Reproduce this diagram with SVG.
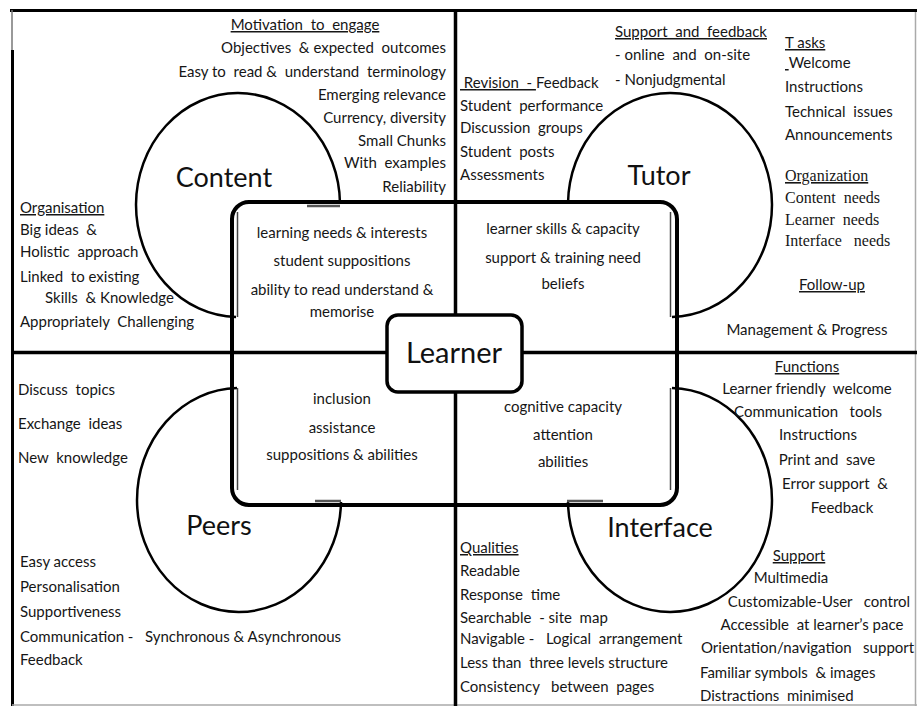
<svg xmlns="http://www.w3.org/2000/svg" width="917" height="706" viewBox="0 0 917 706">
<style>
.t{font-family:Lato,"Liberation Sans",sans-serif;font-size:15px;fill:#161616;white-space:pre}
.m{text-anchor:middle}
.e{text-anchor:end}
.u{text-decoration:underline}
.s{font-family:"Liberation Serif","Times New Roman",serif;font-size:16px}
.big{font-family:Lato,"Liberation Sans",sans-serif;font-size:27px;fill:#111;text-anchor:middle}
.ln{stroke:#000;fill:none}
.arc{stroke:#000;stroke-width:2.5;fill:none}
.dbl{stroke:#444;stroke-width:1.5;fill:none}
</style>
<rect x="0" y="0" width="917" height="706" fill="#fff"/>
<g id="connectors">
  <line class="ln" x1="10" y1="10.5" x2="917" y2="10.5" stroke-width="3"/>
  <line x1="12" y1="10" x2="12" y2="50" stroke="#777" stroke-width="1.5"/>
  <line class="ln" x1="12.5" y1="50" x2="12.5" y2="706" stroke-width="3"/>
  <line x1="915.5" y1="12" x2="915.5" y2="706" stroke="#aaa" stroke-width="1.5"/>
  <line x1="12" y1="705" x2="917" y2="705" stroke="#aaa" stroke-width="1.5"/>
  <line class="ln" x1="455.5" y1="10" x2="455.5" y2="706" stroke-width="3.5"/>
  <line class="ln" x1="12" y1="352.5" x2="917" y2="352.5" stroke-width="3.5"/>
  <rect class="ln" x="232" y="202" width="445" height="303" rx="17" stroke-width="4"/>
</g>
<g id="content">
  <path class="arc" d="M 340 203 A 102 112 0 1 0 236 317"/>
  <line class="dbl" x1="237.5" y1="212" x2="237.5" y2="317"/>
  <line x1="307" y1="206" x2="340" y2="206" stroke="#555" stroke-width="2.5"/>
  <text class="big" x="224" y="187">Content</text>
  <text class="t m u" x="305" y="30">Motivation  to  engage</text>
  <text class="t e" x="446" y="53">Objectives  &amp; expected  outcomes</text>
  <text class="t e" x="446" y="77">Easy to  read &amp;  understand  terminology</text>
  <text class="t e" x="446" y="100">Emerging relevance</text>
  <text class="t e" x="446" y="123">Currency, diversity</text>
  <text class="t e" x="446" y="146">Small Chunks</text>
  <text class="t e" x="446" y="168">With  examples</text>
  <text class="t e" x="446" y="192">Reliability</text>
  <text class="t u" x="20" y="213">Organisation</text>
  <text class="t" x="20" y="235">Big ideas  &amp;</text>
  <text class="t" x="20" y="257">Holistic  approach</text>
  <text class="t" x="20" y="282">Linked  to existing</text>
  <text class="t" x="45" y="303">Skills  &amp; Knowledge</text>
  <text class="t" x="20" y="327">Appropriately  Challenging</text>
  <text class="t m" x="342" y="238">learning needs &amp; interests</text>
  <text class="t m" x="342" y="266">student suppositions</text>
  <text class="t m" x="342" y="295">ability to read understand &amp;</text>
  <text class="t m" x="342" y="317">memorise</text>
</g>
<g id="tutor">
  <path class="arc" d="M 568 203 A 102 112 0 1 1 672 317"/>
  <line class="dbl" x1="670.5" y1="212" x2="670.5" y2="317"/>
  <text class="big" x="659" y="185">Tutor</text>
  <text class="t" x="460" y="88"><tspan class="u"> Revision  - </tspan>Feedback</text>
  <text class="t" x="460" y="111">Student  performance</text>
  <text class="t" x="460" y="133">Discussion  groups</text>
  <text class="t" x="460" y="157">Student  posts</text>
  <text class="t" x="460" y="180">Assessments</text>
  <text class="t u" x="615" y="37">Support  and  feedback</text>
  <text class="t" x="615" y="60">- online  and  on-site</text>
  <text class="t" x="615" y="85">- Nonjudgmental</text>
  <text class="t u" x="785" y="48">T asks</text>
  <text class="t" x="785" y="68"><tspan class="u"> </tspan>Welcome</text>
  <text class="t" x="785" y="92">Instructions</text>
  <text class="t" x="785" y="117">Technical  issues</text>
  <text class="t" x="785" y="140">Announcements</text>
  <text class="t s u" x="785" y="181">Organization</text>
  <text class="t s" x="785" y="203">Content  needs</text>
  <text class="t s" x="785" y="225">Learner  needs</text>
  <text class="t s" x="785" y="246">Interface   needs</text>
  <text class="t m u" x="832" y="290">Follow-up</text>
  <text class="t m" x="807" y="335">Management &amp; Progress</text>
  <text class="t m" x="563" y="234">learner skills &amp; capacity</text>
  <text class="t m" x="563" y="263">support &amp; training need</text>
  <text class="t m" x="563" y="289">beliefs</text>
</g>
<g id="peers">
  <path class="arc" d="M 237 388 A 102 112 0 1 0 341 502"/>
  <line class="dbl" x1="237.5" y1="388" x2="237.5" y2="490"/>
  <line x1="315" y1="501" x2="341" y2="501" stroke="#555" stroke-width="2.5"/>
  <text class="big" x="219" y="535">Peers</text>
  <text class="t" x="18" y="395">Discuss  topics</text>
  <text class="t" x="18" y="429">Exchange  ideas</text>
  <text class="t" x="18" y="463">New  knowledge</text>
  <text class="t" x="20" y="567">Easy access</text>
  <text class="t" x="20" y="592">Personalisation</text>
  <text class="t" x="20" y="617">Supportiveness</text>
  <text class="t" x="20" y="642">Communication -   Synchronous &amp; Asynchronous</text>
  <text class="t" x="20" y="665">Feedback</text>
  <text class="t m" x="342" y="404">inclusion</text>
  <text class="t m" x="342" y="433">assistance</text>
  <text class="t m" x="342" y="460">suppositions &amp; abilities</text>
</g>
<g id="interface">
  <path class="arc" d="M 672 388 A 102 112 0 1 1 568 502"/>
  <line class="dbl" x1="670.5" y1="388" x2="670.5" y2="490"/>
  <line x1="567" y1="501" x2="603" y2="501" stroke="#555" stroke-width="2.5"/>
  <text class="big" x="660" y="537">Interface</text>
  <text class="t m" x="563" y="412">cognitive capacity</text>
  <text class="t m" x="563" y="440">attention</text>
  <text class="t m" x="563" y="467">abilities</text>
  <text class="t m u" x="807" y="372">Functions</text>
  <text class="t m" x="807" y="394">Learner friendly  welcome</text>
  <text class="t m" x="808" y="417">Communication   tools</text>
  <text class="t m" x="818" y="440">Instructions</text>
  <text class="t m" x="827" y="465">Print and  save</text>
  <text class="t m" x="835" y="489">Error support  &amp;</text>
  <text class="t m" x="842" y="513">Feedback</text>
  <text class="t m u" x="799" y="561">Support</text>
  <text class="t m" x="791" y="583">Multimedia</text>
  <text class="t m" x="819" y="607">Customizable-User   control</text>
  <text class="t m" x="812" y="630">Accessible  at learner’s pace</text>
  <text class="t" x="701" y="653">Orientation/navigation   support</text>
  <text class="t" x="700" y="678">Familiar symbols  &amp; images</text>
  <text class="t" x="700" y="701">Distractions  minimised</text>
  <text class="t u" x="460" y="553">Qualities</text>
  <text class="t" x="460" y="576">Readable</text>
  <text class="t" x="460" y="600">Response  time</text>
  <text class="t" x="460" y="623">Searchable  - site  map</text>
  <text class="t" x="460" y="644">Navigable -   Logical  arrangement</text>
  <text class="t" x="460" y="668">Less than  three levels structure</text>
  <text class="t" x="460" y="692">Consistency   between  pages</text>
</g>
<g id="learner">
  <rect x="387" y="315" width="135" height="77" rx="11" fill="#fff" stroke="#000" stroke-width="3.5"/>
  <text class="big" x="454" y="363" style="font-size:29px">Learner</text>
</g>
</svg>
